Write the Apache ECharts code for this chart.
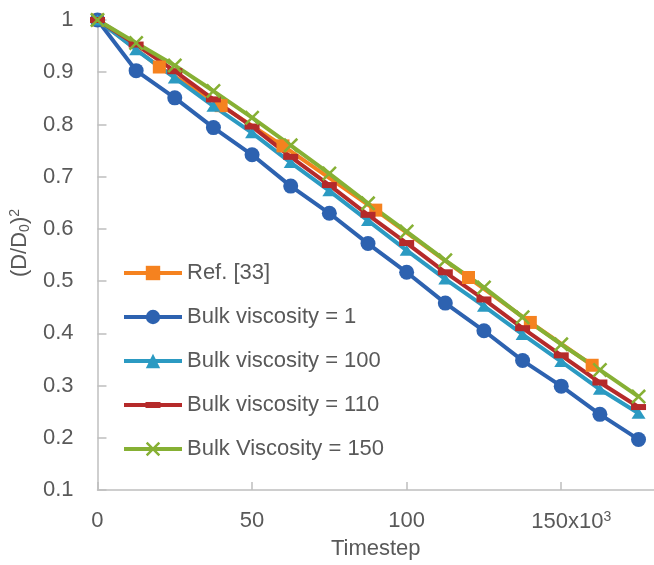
<!DOCTYPE html>
<html>
<head>
<meta charset="utf-8">
<script src="https://cdn.jsdelivr.net/npm/echarts@6/dist/echarts.min.js"></script>
<style>html,body{margin:0;padding:0;background:#fff}#c{width:654px;height:565px}</style>
</head>
<body>
<div id="c"></div>
<script>
// Data
const timesteps = [0, 12.5, 25, 37.5, 50, 62.5, 75, 87.5, 100, 112.5, 125, 137.5, 150, 162.5, 175];
const refX = [0, 20, 40, 60, 90, 120, 140, 160];
const refY = [1, 0.910, 0.836, 0.759, 0.636, 0.507, 0.421, 0.339];
const visc1 = [1, 0.903, 0.851, 0.794, 0.742, 0.682, 0.630, 0.572, 0.517, 0.458, 0.405, 0.348, 0.299, 0.245, 0.197];
const visc100 = [1, 0.943, 0.889, 0.835, 0.784, 0.727, 0.673, 0.616, 0.559, 0.504, 0.452, 0.398, 0.346, 0.293, 0.247];
const visc110 = [1, 0.953, 0.902, 0.848, 0.796, 0.738, 0.684, 0.627, 0.573, 0.517, 0.465, 0.410, 0.358, 0.306, 0.259];
const visc150 = [1, 0.956, 0.913, 0.864, 0.813, 0.760, 0.706, 0.649, 0.595, 0.540, 0.488, 0.431, 0.379, 0.330, 0.279];
const seriesNames = ['Ref. [33]', 'Bulk viscosity = 1', 'Bulk viscosity = 100', 'Bulk viscosity = 110', 'Bulk Viscosity = 150'];
const xTicks = [0, 50, 100, 150];
const yTicks = [0.1, 0.2, 0.3, 0.4, 0.5, 0.6, 0.7, 0.8, 0.9, 1];

const pair = (xs, ys) => xs.map((x, i) => [x, ys[i]]);
const FONT = 'Liberation Sans';
const TXT = '#595959';
const xShape = 'path://M0,1.2L1.2,0L5,3.8L8.8,0L10,1.2L6.2,5L10,8.8L8.8,10L5,6.2L1.2,10L0,8.8L3.8,5Z';
const dashShape = 'path://M0,0L15,0L15,6L0,6Z';
// legend icon for the dash-marker series: line with a thicker dash in the middle (box 58x18)
const dashLegendIcon = 'path://M0,0L0.01,0L0,0.01Z M58,18L57.99,18L58,17.99Z M0,7L21.5,7L21.5,6L36.5,6L36.5,7L58,7L58,11L36.5,11L36.5,12L21.5,12L21.5,11L0,11Z';

function mk(name, data, color, symbol, size) {
  return {
    name: name, type: 'line', data: data,
    symbol: symbol, symbolSize: size, showSymbol: true,
    lineStyle: { color: color, width: 4 },
    itemStyle: { color: color },
    emphasis: { disabled: true },
    animation: false
  };
}

const chart = echarts.init(document.getElementById('c'), null, { renderer: 'canvas' });
chart.setOption({
  animation: false,
  backgroundColor: '#fff',
  grid: { left: 97, top: 20, width: 562, height: 474, containLabel: false },
  legend: {
    orient: 'vertical', left: 122, top: 262, padding: 0,
    itemWidth: 58, itemHeight: 18, itemGap: 22,
    lineStyle: { width: 4 },
    textStyle: { fontFamily: FONT, fontSize: 22, color: TXT, lineHeight: 22 },
    data: seriesNames.map((n, i) => i === 3 ? { name: n, icon: dashLegendIcon } : { name: n })
  },
  xAxis: {
    type: 'value', min: 0, max: 180, interval: 50,
    name: 'Timestep', nameLocation: 'middle', nameGap: 47,
    nameTextStyle: { fontFamily: FONT, fontSize: 22, color: TXT },
    axisLine: { show: true, lineStyle: { color: '#BFBFBF', width: 1.5 } },
    axisTick: { show: true, inside: true, length: 8, lineStyle: { color: '#BFBFBF', width: 1.5 } },
    splitLine: { show: false },
    axisLabel: {
      showMaxLabel: false, margin: 20, fontFamily: FONT, fontSize: 22, color: TXT,
      formatter: v => xTicks.includes(v) ? (v === 150 ? '{p|}150x10{s|3}' : String(v)) : '',
      rich: {
        p: { width: 20, fontSize: 22 },
        s: { fontSize: 14, verticalAlign: 'top', padding: [0, 0, 10, 0], color: TXT, fontFamily: FONT }
      }
    }
  },
  yAxis: {
    type: 'value', min: 0.1, max: 1, interval: 0.1,
    name: '(D/D{sub|0}){sup|2}', nameLocation: 'middle', nameGap: 62, nameRotate: 90,
    nameTextStyle: {
      fontFamily: FONT, fontSize: 22, color: TXT, padding: [0, 0, 0, 24],
      rich: {
        sub: { fontSize: 14, fontFamily: FONT, color: TXT, verticalAlign: 'bottom', padding: [8, 0, 0, 0] },
        sup: { fontSize: 14, fontFamily: FONT, color: TXT, verticalAlign: 'top', padding: [0, 0, 10, 0] }
      }
    },
    axisLine: { show: true, lineStyle: { color: '#BFBFBF', width: 1.5 } },
    axisTick: { show: true, inside: true, length: 9, lineStyle: { color: '#BFBFBF', width: 1.5 } },
    splitLine: { show: false },
    axisLabel: {
      margin: 24, fontFamily: FONT, fontSize: 22, color: TXT,
      formatter: v => { const r = Math.round(v * 10) / 10; return yTicks.some(t => Math.abs(t - r) < 1e-9) ? String(r) : ''; }
    }
  },
  series: [
    mk(seriesNames[0], pair(refX, refY), '#F5821F', 'rect', 13),
    mk(seriesNames[1], pair(timesteps, visc1), '#2D62B0', 'circle', 15),
    mk(seriesNames[2], pair(timesteps, visc100), '#2B9AC2', 'triangle', [14, 11]),
    mk(seriesNames[3], pair(timesteps, visc110), '#B52A2A', dashShape, [15, 6]),
    mk(seriesNames[4], pair(timesteps, visc150), '#86B034', xShape, 15)
  ]
});
</script>
</body>
</html>
